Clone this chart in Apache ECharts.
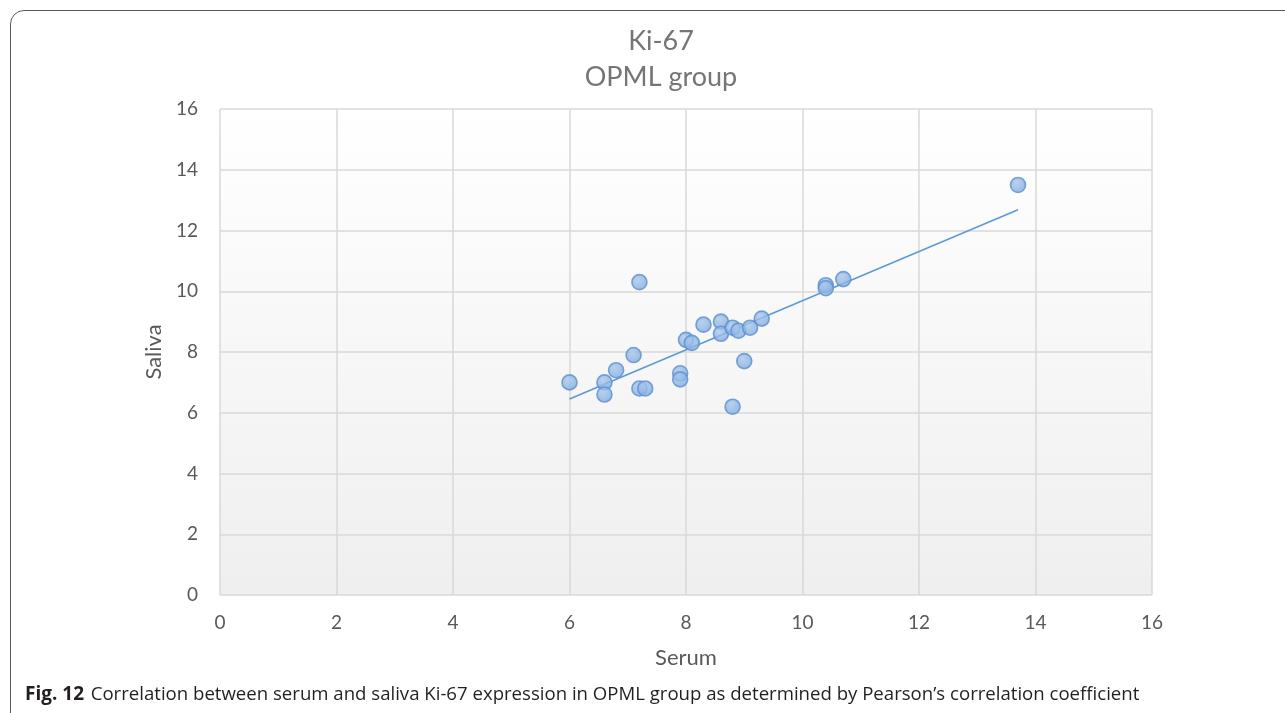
<!DOCTYPE html>
<html>
<head>
<meta charset="utf-8">
<script src="https://cdn.jsdelivr.net/npm/echarts@6/dist/echarts.min.js"></script>
<style>
  html, body { margin: 0; padding: 0; background: #fff; }
  #wrap { position: relative; width: 1285px; height: 713px; overflow: hidden; }
  #frame {
    position: absolute; left: 10px; top: 10px; width: 1320px; height: 740px;
    border: 1.5px solid #5a5a5a; border-radius: 14px; box-sizing: border-box;
  }
  #chart { position: absolute; left: 0; top: 0; width: 1285px; height: 713px; }
</style>
</head>
<body>
<div id="wrap">
  <div id="frame"></div>
  <div id="chart"></div>
</div>
<script>
// Ki-67 expression, paired serum / saliva values (OPML group)
const serum  = [6.0, 6.6, 6.6, 6.8, 7.1, 7.2, 7.2, 7.3, 7.9, 7.9, 8.0, 8.1, 8.3,
                8.6, 8.6, 8.8, 8.9, 9.1, 9.3, 9.0, 8.8, 10.4, 10.4, 10.7, 13.7];
const saliva = [7.0, 7.0, 6.6, 7.4, 7.9, 10.3, 6.8, 6.8, 7.3, 7.1, 8.4, 8.3, 8.9,
                9.0, 8.6, 8.8, 8.7, 8.8, 9.1, 7.7, 6.2, 10.2, 10.1, 10.4, 13.5];
const axisTicks = [0, 2, 4, 6, 8, 10, 12, 14, 16];

const titleLines = ['Ki-67', 'OPML group'];
const xName = 'Serum';
const yName = 'Saliva';
const captionLabel = 'Fig. 12';
const captionText = 'Correlation between serum and saliva Ki-67 expression in OPML group as determined by Pearson\u2019s correlation coefficient';

// Least-squares linear trendline through the paired points
const n = serum.length;
const mx = serum.reduce((a, b) => a + b, 0) / n;
const my = saliva.reduce((a, b) => a + b, 0) / n;
let sxy = 0, sxx = 0;
for (let i = 0; i < n; i++) {
  sxy += (serum[i] - mx) * (saliva[i] - my);
  sxx += (serum[i] - mx) * (serum[i] - mx);
}
const slope = sxy / sxx;
const intercept = my - slope * mx;
const xMin = Math.min(...serum), xMax = Math.max(...serum);
const trend = [[xMin, intercept + slope * xMin], [xMax, intercept + slope * xMax]];

const points = serum.map((x, i) => [x, saliva[i]]);

const font = 'Lato, "Open Sans", sans-serif';
const gridColor = '#d9d9d9';

const axisCommon = {
  type: 'value',
  min: axisTicks[0],
  max: axisTicks[axisTicks.length - 1],
  interval: axisTicks[1] - axisTicks[0],
  axisLine: { show: false },
  axisTick: { show: false },
  splitLine: { show: true, lineStyle: { color: gridColor, width: 1.5 } },
  nameLocation: 'middle',
  nameTextStyle: { color: '#595959', fontSize: 22, fontFamily: font },
  axisLabel: { color: '#595959', fontSize: 19, fontFamily: font }
};

const chart = echarts.init(document.getElementById('chart'), null, { renderer: 'canvas' });
chart.setOption({
  animation: false,
  backgroundColor: 'transparent',
  title: {
    text: titleLines.join('\n'),
    left: 656,
    top: 18,
    textAlign: 'center',
    textStyle: { color: '#757575', fontSize: 27, fontWeight: 'normal', fontFamily: font, lineHeight: 36 }
  },
  grid: {
    left: 220, right: 133, top: 109, bottom: 118,
    show: true,
    borderWidth: 0,
    backgroundColor: new echarts.graphic.LinearGradient(0, 0, 0, 1, [
      { offset: 0, color: '#ffffff' },
      { offset: 1, color: '#efefef' }
    ])
  },
  xAxis: Object.assign({}, axisCommon, {
    name: xName,
    nameGap: 52,
    axisLabel: Object.assign({}, axisCommon.axisLabel, { margin: 18 })
  }),
  yAxis: Object.assign({}, axisCommon, {
    name: yName,
    nameGap: 52,
    axisLabel: Object.assign({}, axisCommon.axisLabel, { margin: 22 })
  }),
  series: [
    {
      type: 'line',
      data: trend,
      showSymbol: false,
      symbol: 'none',
      lineStyle: { color: '#5b9bd5', width: 1.6 },
      z: 2
    },
    {
      type: 'scatter',
      data: points,
      symbol: 'circle',
      symbolSize: 15,
      itemStyle: {
        color: new echarts.graphic.RadialGradient(0.4, 0.35, 0.7, [
          { offset: 0, color: '#a8c8ec' },
          { offset: 1, color: '#7ea8dc' }
        ]),
        borderColor: '#5a8ecf',
        borderWidth: 1.6
      },
      z: 3
    }
  ],
  graphic: [
    {
      type: 'text',
      left: 25,
      top: 685,
      style: {
        text: '{b|' + captionLabel + '}  {r|' + captionText + '}',
        rich: {
          b: { fontFamily: '"Open Sans", sans-serif', fontWeight: 'bold', fontSize: 19, fill: '#231f20' },
          r: { fontFamily: '"Open Sans", sans-serif', fontSize: 18.6, fill: '#231f20' }
        }
      }
    }
  ]
});
</script>
</body>
</html>
